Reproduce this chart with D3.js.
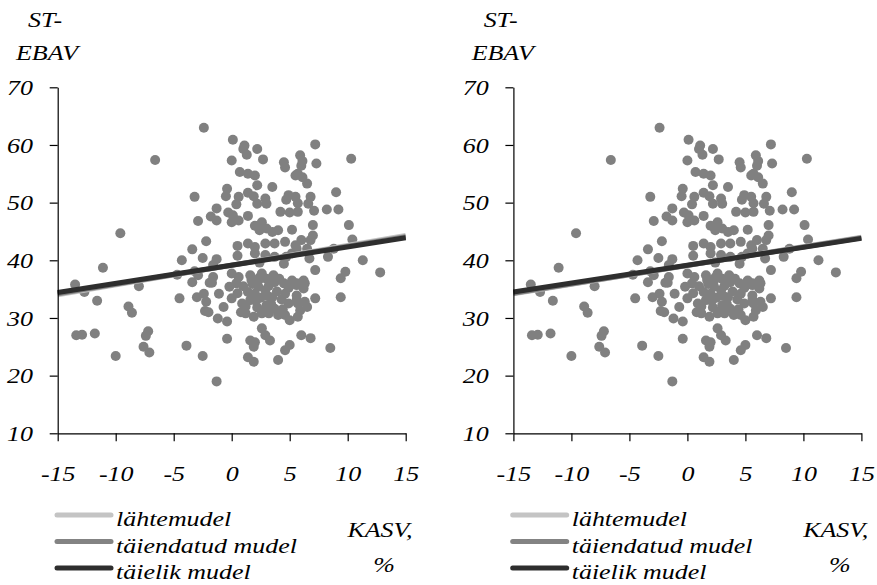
<!DOCTYPE html>
<html>
<head>
<meta charset="utf-8">
<script src="https://cdn.jsdelivr.net/npm/d3@7"></script>
<style>
body { margin: 0; background: #fff; }
</style>
</head>
<body>
<div id="chart"></div>
<script>
var xTicks = [-15, -10, -5, 0, 5, 10, 15];
var yTicks = [10, 20, 30, 40, 50, 60, 70];
var yTitle = ["ST-", "EBAV"];
var xTitle = ["KASV,", "%"];
var modelNames = ["lähtemudel", "täiendatud mudel", "täielik mudel"];

// [KASV %, ST-EBAV]
var points = [
	[-13.5,35.8],[-12.7,34.5],[-11.6,33.0],[-11.1,38.7],[-9.6,44.7],[-13.4,27.0],[-12.9,27.1],[-11.8,27.3],
	[-10.0,23.4],[-8.9,32.0],[-8.6,30.9],[-8.0,35.5],[-7.2,27.7],[-7.4,26.9],[-7.6,25.0],[-7.1,24.0],[-6.6,57.4],
	[-4.7,37.5],[-4.3,40.0],[-4.5,33.4],[-3.9,25.2],[-3.4,41.9],[-3.2,51.0],[-2.9,46.8],[-3.2,38.1],[-3.4,36.2],
	[-3.0,33.6],[-2.5,23.4],[-2.4,63.0],[-2.2,43.3],[-2.5,40.4],[-1.3,40.2],[-1.6,39.2],[-1.6,37.1],[-1.7,36.1],
	[-2.4,34.2],[-2.2,32.8],[-2.3,31.2],[-2.0,31.0],[-1.1,34.2],[-1.2,29.9],[-0.7,31.9],[-0.4,29.4],[-0.4,26.4],
	[-1.3,19.0],[-1.3,49.0],[-1.8,47.6],[-1.3,46.9],[-0.4,52.4],[-0.5,51.1],[-2.9,37.4],[-1.9,36.1],
	[0.1,60.9],[0.0,57.3],[1.1,59.9],[1.0,59.3],[1.3,58.3],[2.2,59.3],[2.7,57.5],[0.7,55.3],[1.4,55.0],[2.0,54.7],
	[2.2,53.0],[3.5,52.7],[4.5,57.0],[4.6,56.1],[5.9,58.2],[6.1,57.2],[6.0,56.4],[5.7,55.0],[5.5,54.7],[6.1,54.4],
	[6.5,53.3],[7.2,60.1],[7.3,56.8],[10.3,57.6],
	[0.6,51.0],[0.4,49.7],[1.4,51.7],[1.9,51.1],[2.2,49.8],[2.9,50.7],[3.0,49.8],[4.9,51.3],[5.5,51.0],[4.7,50.5],
	[5.7,49.9],[6.8,51.0],[6.6,49.8],[9.0,51.8],[4.2,48.4],[5.0,48.3],[5.7,48.4],[7.1,48.6],[8.2,48.8],[9.2,48.8],
	[-0.3,48.3],[0.1,47.8],[0.0,46.6],[0.6,46.9],[1.4,47.7],[2.0,46.0],[2.4,45.2],[3.0,45.5],[3.5,44.9],[2.6,46.6],
	[4.0,45.2],[5.2,45.3],[7.0,46.1],[10.1,46.1],
	[0.5,42.5],[1.4,42.9],[2.0,42.3],[2.9,42.9],[3.7,42.9],[4.6,43.2],[5.5,42.6],[6.0,43.5],[7.0,44.3],[6.8,43.5],
	[6.5,42.0],[5.6,42.0],[10.4,43.6],[8.8,42.0],[8.3,40.6],[6.7,40.3],[11.3,40.0],[12.8,37.9],[7.2,38.3],[9.8,38.0],
	[9.4,36.9],[0.5,40.8],[2.0,41.2],[2.9,40.9],[3.7,40.6],[4.5,39.4],[5.2,41.2],[2.4,39.6],[4.7,40.6],
	[0.0,37.7],[0.6,37.1],[-0.2,35.4],[0.4,36.0],[1.6,37.4],[2.3,36.5],[2.6,37.7],[3.0,36.8],[3.7,36.2],[4.5,36.0],
	[5.2,36.5],[5.6,36.0],[6.2,36.5],[6.3,36.0],[5.6,35.7],
	[0.0,33.4],[0.9,32.5],[1.4,34.5],[2.0,34.2],[1.6,33.1],[1.2,30.8],[1.9,30.2],[2.6,30.8],[2.3,35.4],[2.9,34.8],
	[3.5,33.6],[3.0,32.2],[3.7,31.6],[3.2,30.8],[4.0,30.5],[4.6,34.2],[4.9,32.5],[5.6,33.1],[5.9,31.3],[5.0,29.6],
	[5.7,30.2],[6.2,35.1],[6.3,32.8],[5.6,33.9],[7.2,33.4],[9.4,33.6],[5.7,32.5],[6.5,31.9],
	[1.0,35.5],[1.8,35.9],[2.5,33.5],[3.2,35.6],[3.9,34.6],[4.3,33.2],[1.2,32.0],[2.2,31.8],[3.4,32.4],[4.4,31.5],
	[0.5,34.3],[2.8,31.2],[1.7,36.6],[3.6,37.4],[4.9,35.2],[4.1,36.8],[2.1,33.0],[3.1,33.8],[0.8,31.0],[4.6,30.5],[2.4,37.0],
	[2.6,28.2],[2.9,27.0],[3.3,26.1],[1.6,26.1],[2.0,25.8],[1.9,25.0],[1.4,23.2],[1.9,22.4],[4.0,22.7],[4.6,24.4],
	[5.0,25.3],[6.0,27.0],[6.8,26.5],[8.5,24.8]
];

// fitted lines: ST-EBAV at KASV = -15 and KASV = 15
var fitLeft = [[34.0, 44.3], [34.2, 44.1], [34.4, 43.9]];
var fitRight = [[34.2, 44.0], [34.3, 43.9], [34.5, 43.8]];

var color = ["#c4c4c4", "#838383", "#2e2e2e"];
var dotColor = "#808080";
var stretch = 1.18;
var serif = "Liberation Serif";

var svg = d3.select("#chart").append("svg")
	.attr("width", 877)
	.attr("height", 585);

drawPanel(0, fitLeft);
drawPanel(455.7, fitRight);

function addText(x, y, str, anchor) {
	svg.append("text")
		.attr("transform", `translate(${x}, ${y}) scale(${stretch}, 1)`)
		.attr("text-anchor", anchor)
		.attr("font-family", serif)
		.attr("font-style", "italic")
		.attr("font-size", 22)
		.text(str);
}

function drawPanel(dx, fits) {
	var xScale = d3.scaleLinear()
		.domain([-15, 15])
		.range([57.7 + dx, 405.7 + dx]);

	var yScale = d3.scaleLinear()
		.domain([10, 70])
		.range([433.3, 87.3]);

	/* dots */
	svg.append("g")
		.selectAll("circle")
		.data(points).enter()
		.append("circle")
		.attr("cx", d => xScale(d[0]))
		.attr("cy", d => yScale(d[1]))
		.attr("r", 5)
		.style("fill", dotColor);

	/* fitted lines, darkest on top */
	var line = d3.line()
		.x(d => xScale(d[0]))
		.y(d => yScale(d[1]));

	svg.append("g")
		.selectAll("path")
		.data(fits).enter()
		.append("path")
		.attr("d", d => line([[-15, d[0]], [15, d[1]]]))
		.style("fill", "none")
		.style("stroke", (d, i) => color[i])
		.style("stroke-width", 5);

	/* axes */
	var xAxis = d3.axisBottom(xScale).tickValues(xTicks).tickFormat(d => String(d))
		.tickSize(8).tickSizeOuter(0).tickPadding(24);
	var yAxis = d3.axisLeft(yScale).tickValues(yTicks).tickFormat(d => String(d))
		.tickSize(8).tickSizeOuter(0).tickPadding(13);

	var gx = svg.append("g")
		.attr("transform", "translate(0, 433.3)")
		.call(xAxis);
	var gy = svg.append("g")
		.attr("transform", `translate(${57.7 + dx}, 0)`)
		.call(yAxis);

	[gx, gy].forEach(function(g) {
		g.attr("font-family", serif).attr("font-size", 22);
		g.selectAll("path, line").style("stroke", "#000").style("stroke-width", 1.2);
		g.selectAll("text")
			.attr("transform", `scale(${stretch}, 1)`)
			.attr("font-style", "italic");
	});

	/* titles */
	addText(45 + dx, 27, yTitle[0], "middle");
	addText(47 + dx, 60, yTitle[1], "middle");
	addText(380 + dx, 537, xTitle[0], "middle");
	addText(384 + dx, 572, xTitle[1], "middle");

	/* legend */
	var legend = svg.append("g");
	modelNames.forEach(function(name, i) {
		var ly = 515 + i * 26.5;
		legend.append("line")
			.attr("x1", 57 + dx).attr("x2", 111 + dx)
			.attr("y1", ly).attr("y2", ly)
			.style("stroke", color[i])
			.style("stroke-width", 5)
			.style("stroke-linecap", "round");
		addText(116 + dx, ly + 11, name, "start");
	});
}
</script>
</body>
</html>
